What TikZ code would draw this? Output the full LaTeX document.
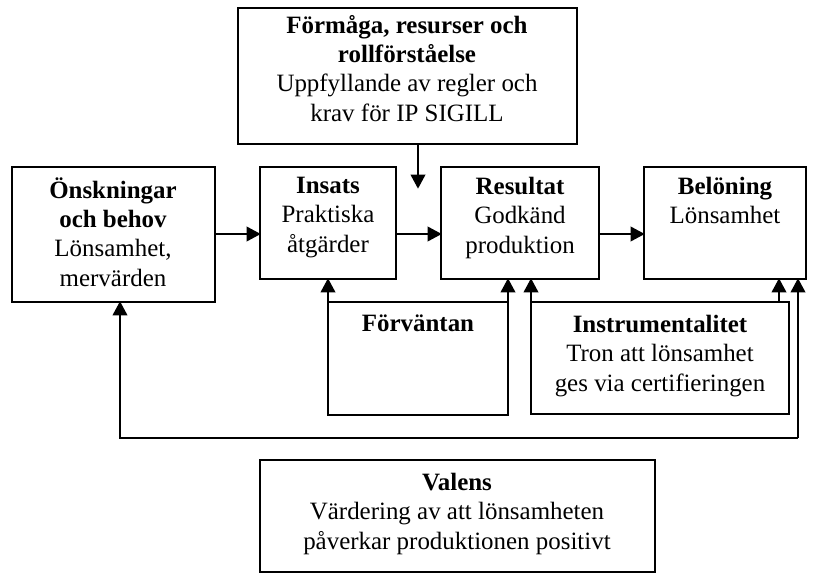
\documentclass[tikz,border=0pt]{standalone}
\usepackage{fontspec}
\setmainfont{Liberation Serif}
\usetikzlibrary{arrows.meta}
\tikzset{
 boxstyle/.style={draw=black,line width=1.5pt,rectangle,inner sep=0pt,align=center,anchor=center,font=\fontsize{18.7pt}{22pt}\selectfont,text=black},
 textlbl/.style={align=center,font=\fontsize{18.7pt}{22pt}\selectfont,anchor=north,inner sep=0pt,text=black},
 conn/.style={draw=black,line width=1.2pt,-{Triangle[length=10.5pt,width=11pt]},shorten >=-0.5pt},
}
\begin{document}
\begin{tikzpicture}[x=0.75pt,y=-0.75pt]
\useasboundingbox (0,0) rectangle (814,574);
\path[boxstyle,draw] (238,8) rectangle (577,144) coordinate (formse);
\coordinate (formnw) at (238,8);
\path[boxstyle,draw] (12,167) rectangle (215,302);
\path[boxstyle,draw] (260,167) rectangle (396,279);
\path[boxstyle,draw] (441,167) rectangle (599,279);
\path[boxstyle,draw] (644,167) rectangle (806,279);
\path[boxstyle,draw] (328,302) rectangle (508,415);
\path[boxstyle,draw] (531,302) rectangle (789,414);
\path[boxstyle,draw] (260,460) rectangle (655,572);
\coordinate (a) at (418,144);
\coordinate (b) at (418,188);
\draw[conn] (a) -- (b);
\coordinate (o) at (215,234); \coordinate (i) at (260,234);
\draw[conn] (o) -- (i);
\coordinate (i2) at (396,234); \coordinate (r) at (441,234);
\draw[conn] (i2) -- (r);
\coordinate (r2) at (599,234); \coordinate (be) at (644,234);
\draw[conn] (r2) -- (be);
\coordinate (f1) at (328,302); \coordinate (i3) at (328,279);
\draw[conn] (f1) -- (i3);
\coordinate (f2) at (508,302); \coordinate (r3) at (508,279);
\draw[conn] (f2) -- (r3);
\coordinate (n1) at (531,302); \coordinate (r4) at (531,279);
\draw[conn] (n1) -- (r4);
\coordinate (n2) at (779,302); \coordinate (be2) at (779,279);
\draw[conn] (n2) -- (be2);
\coordinate (be3) at (798,279); \coordinate (c1) at (798,438); \coordinate (c2) at (120,438); \coordinate (o2) at (120,302);
\draw[conn] (c1) -- (be3);
\draw[conn] (c1) -- (c2) -- (o2);
\node[textlbl] (t1) at (407,15) {\textbf{Förmåga, resurser och}\\\textbf{rollförståelse}\\Uppfyllande av regler och\\krav för IP SIGILL};
\node[textlbl] (t2) at (113,177) {\textbf{Önskningar}\\\textbf{och behov}\\Lönsamhet,\\mervärden};
\node[textlbl] (t3) at (328,177) {\textbf{Insats}\\Praktiska\\åtgärder};
\node[textlbl] (t4) at (520,177) {\textbf{Resultat}\\Godkänd\\produktion};
\node[textlbl] (t5) at (725,177) {\textbf{Belöning}\\Lönsamhet};
\node[textlbl] (t6) at (418,315) {\textbf{Förväntan}};
\node[textlbl] (t7) at (660,315) {\textbf{Instrumentalitet}\\Tron att lönsamhet\\ges via certifieringen};
\node[textlbl] (t8) at (457,473) {\textbf{Valens}\\Värdering av att lönsamheten\\påverkar produktionen positivt};
\end{tikzpicture}
\end{document}
